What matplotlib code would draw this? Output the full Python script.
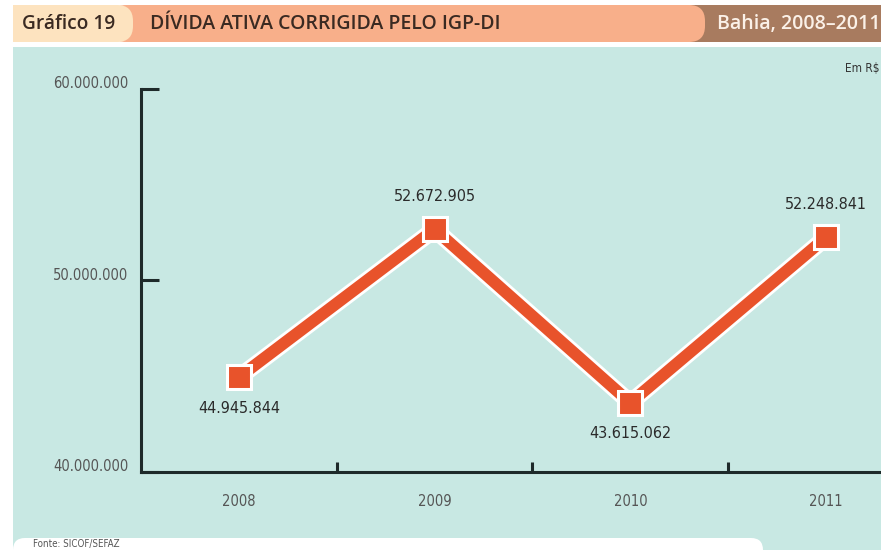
import matplotlib
matplotlib.use("Agg")
import matplotlib.pyplot as plt
import matplotlib.patheffects as pe
from matplotlib.patches import Rectangle, FancyBboxPatch
from matplotlib.transforms import ScaledTranslation

# ---- data ----
years = ["2008", "2009", "2010", "2011"]
values = [44945844, 52672905, 43615062, 52248841]
value_labels = ["44.945.844", "52.672.905", "43.615.062", "52.248.841"]
label_pos = ["below", "above", "below", "above"]
yticks = [40000000, 50000000, 60000000]
ytick_labels = ["40.000.000", "50.000.000", "60.000.000"]
title_num = "Gráfico 19"
title = "DÍVIDA ATIVA CORRIGIDA PELO IGP-DI"
subtitle = "Bahia, 2008–2011"
unit = "Em R$"
source = "Fonte: SICOF/SEFAZ"

W, H = 881, 550
fig = plt.figure(figsize=(W / 100, H / 100), dpi=100)
fig.patch.set_facecolor("white")

COND = ["DejaVu Sans"]
HEAD = ["Open Sans", "DejaVu Sans"]
ST = "condensed"

# background layer in pixel coordinates
bg = fig.add_axes([0, 0, 1, 1], zorder=0)
bg.set_xlim(0, W)
bg.set_ylim(H, 0)
bg.axis("off")

teal = "#c8e8e3"
bg.add_patch(Rectangle((13, 47), W - 13, 503, facecolor=teal, edgecolor="none"))
# white source box with rounded corner
bg.add_patch(FancyBboxPatch((13, 538), 750, 40, boxstyle="round,pad=0,rounding_size=12",
                            facecolor="white", edgecolor="none"))
# header
bg.add_patch(Rectangle((690, 5), W - 690, 37, facecolor="#a87b5f", edgecolor="none"))
bg.add_patch(FancyBboxPatch((110, 5), 595, 37, boxstyle="round,pad=0,rounding_size=16",
                            facecolor="#f8af8a", edgecolor="none"))
bg.add_patch(FancyBboxPatch((13, 5), 120, 37, boxstyle="round,pad=0,rounding_size=16",
                            facecolor="#fde3bf", edgecolor="none"))
bg.add_patch(Rectangle((13, 5), 30, 37, facecolor="#fde3bf", edgecolor="none"))

bg.text(22, 24, title_num, fontsize=13.8, fontweight="semibold", color="#3a2a22",
        family=HEAD, fontstretch=ST, va="center", ha="left")
bg.text(150, 24, title, fontsize=14, fontweight="semibold", color="#3a2a22",
        family=HEAD, fontstretch=ST, va="center", ha="left")
bg.text(717, 24, subtitle, fontsize=14, fontweight="semibold", color="#fbf1e8",
        family=HEAD, fontstretch=ST, va="center", ha="left")
bg.text(845, 68, unit, fontsize=8.5, color="#333333", family=COND, fontstretch=ST,
        va="center", ha="left")
bg.text(33, 544, source, fontsize=7, color="#555555", family=COND, fontstretch=ST,
        va="center", ha="left")

# main axes
x0_px, x1_px = 141, 881
y_top_px, y_bot_px = 89, 472
ax = fig.add_axes([x0_px / W, (H - y_bot_px) / H, (x1_px - x0_px) / W, (y_bot_px - y_top_px) / H],
                  zorder=2)
ax.patch.set_alpha(0)

xs = list(range(len(years)))
ax.plot(xs, values, color="#e8532b", linewidth=8.5, solid_joinstyle="miter", zorder=3,
        path_effects=[pe.Stroke(linewidth=12.5, foreground="white"), pe.Normal()])
ax.plot(xs, values, linestyle="none", marker="s", markersize=17,
        markerfacecolor="#e8532b", markeredgecolor="white", markeredgewidth=2.2, zorder=4)

for x, v, lab, pos in zip(xs, values, value_labels, label_pos):
    if pos == "above":
        ax.annotate(lab, (x, v), xytext=(0, 18), textcoords="offset points",
                    ha="center", va="bottom", fontsize=11.5, color="#2b2b2b",
                    family=COND, fontstretch=ST)
    else:
        ax.annotate(lab, (x, v), xytext=(0, -17), textcoords="offset points",
                    ha="center", va="top", fontsize=11.5, color="#2b2b2b",
                    family=COND, fontstretch=ST)

ax.set_xlim(-0.5, (x1_px - 238) / 196.0)
ax.set_ylim(yticks[0], yticks[-1])

for s in ["top", "right"]:
    ax.spines[s].set_visible(False)
for s in ["left", "bottom"]:
    ax.spines[s].set_color("#1e2a2a")
    ax.spines[s].set_linewidth(2.2)

ax.set_yticks(yticks)
ax.set_yticklabels(ytick_labels, family=COND, fontstretch=ST, fontsize=10.5, color="#555555")
ax.tick_params(axis="y", direction="in", length=13, width=2.2, color="#1e2a2a", pad=-3)
off = ScaledTranslation(-12 / 72, 5 / 72, fig.dpi_scale_trans)
for lab in ax.get_yticklabels():
    lab.set_transform(lab.get_transform() + off)

ax.set_xticks(xs)
ax.set_xticklabels(years, family=COND, fontstretch=ST, fontsize=10.5, color="#555555")
ax.tick_params(axis="x", which="major", length=0, pad=16)
ax.set_xticks([0.5, 1.5, 2.5], minor=True)
ax.tick_params(axis="x", which="minor", direction="in", length=7, width=2.2, color="#1e2a2a")

fig.savefig("out.png", dpi=100)
